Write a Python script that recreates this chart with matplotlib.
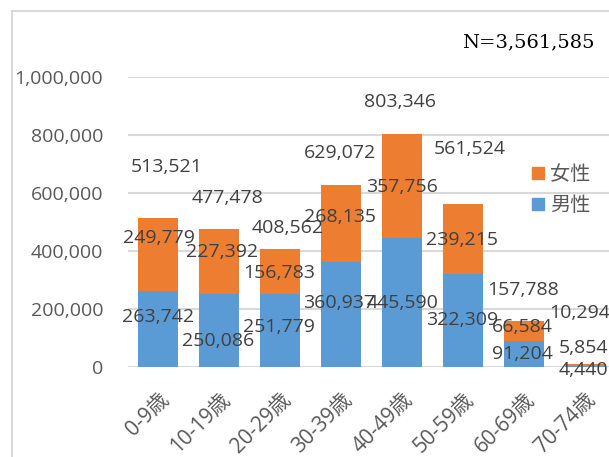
import matplotlib
matplotlib.use("Agg")
import matplotlib.pyplot as plt
from matplotlib.patches import Patch, Rectangle
from matplotlib.ticker import FuncFormatter

# ---- data ----
categories = ["0-9歳", "10-19歳", "20-29歳", "30-39歳", "40-49歳", "50-59歳", "60-69歳", "70-74歳"]
male = [263742, 250086, 251779, 360937, 445590, 322309, 91204, 4440]
female = [249779, 227392, 156783, 268135, 357756, 239215, 66584, 5854]
totals = [m + f for m, f in zip(male, female)]
n_total = sum(totals)
yticks = [0, 200000, 400000, 600000, 800000, 1000000]

# ---- label offsets (pixels) ----
tot_off = [(8, 51), (8, 31), (7, 21), (-1, 32), (-2, 32), (7, 55), (-1, 31), (-5, 51)]
fem_off = [(0, -20), (3, -23), (-1, -24), (-1, -32), (0, -53), (-1, -36), (-2, -6), (-2, 16)]
mal_off = [(0, -26), (-1, -47), (-1, -33), (-2, -41), (0, -65), (-1, -46), (-2, -13), (-2, -4)]

W, H = 609, 457
BLUE = "#5B9BD5"
ORANGE = "#ED7D31"
AXIS_C = "#595959"
LAB_C = "#404040"
GRID_C = "#D9D9D9"
NUM_FONT = ["Open Sans", "Noto Sans CJK JP", "DejaVu Sans"]
CJK_FONT = ["Noto Sans CJK JP", "DejaVu Sans"]
FS = 14

plt.rcParams["font.family"] = NUM_FONT
fig = plt.figure(figsize=(W / 100, H / 100), dpi=100)
ax = fig.add_axes([128 / W, (H - 367) / H, (615.5 - 128) / W, 290 / H])

x = list(range(len(categories)))
bw = 40 / 61
ax.bar(x, male, width=bw, color=BLUE, zorder=3)
ax.bar(x, female, width=bw, bottom=male, color=ORANGE, zorder=3)

ax.set_xlim(-0.5, len(categories) - 0.5)
ax.set_ylim(0, 1000000)
ax.set_yticks(yticks)
ax.yaxis.set_major_formatter(FuncFormatter(lambda v, p: f"{int(v):,}"))
ax.grid(axis="y", color=GRID_C, lw=1.5, zorder=0)
for s in ax.spines.values():
    s.set_visible(False)
ax.tick_params(axis="y", length=0, pad=18, labelsize=FS, labelcolor=AXIS_C)
ax.tick_params(axis="x", length=0, pad=16, labelcolor=AXIS_C)
ax.set_xticks(x)
ax.set_xticklabels(categories, rotation=45, ha="right", rotation_mode="anchor",
                   fontsize=15, family=NUM_FONT, color=AXIS_C)

fmt = lambda v: f"{v:,}"
for i in x:
    ax.annotate(fmt(totals[i]), (i, totals[i]), xytext=tot_off[i], textcoords="offset pixels",
                ha="center", va="center", fontsize=FS, color=LAB_C, zorder=5)
    ax.annotate(fmt(female[i]), (i, totals[i]), xytext=fem_off[i], textcoords="offset pixels",
                ha="center", va="center", fontsize=FS, color=LAB_C, zorder=5)
    ax.annotate(fmt(male[i]), (i, male[i]), xytext=mal_off[i], textcoords="offset pixels",
                ha="center", va="center", fontsize=FS, color=LAB_C, zorder=5)

handles = [Patch(color=ORANGE, label="女性"), Patch(color=BLUE, label="男性")]
fig.legend(handles=handles, loc="upper left", bbox_to_anchor=(532 / W, 1 - 164 / H),
           bbox_transform=fig.transFigure, frameon=False, borderpad=0, borderaxespad=0,
           handlelength=0.6, handleheight=0.6, handletextpad=0.3, labelspacing=0.5,
           prop={"family": CJK_FONT, "size": 14.5}, labelcolor=AXIS_C)

fig.text(595 / W, 1 - 42 / H, f"N={n_total:,}", ha="right", va="center",
         family=["DejaVu Serif"], fontsize=14, color="black")

fig.add_artist(Rectangle((12 / W, -0.1), 1.5, (H - 11) / H + 0.1, transform=fig.transFigure,
                         fill=False, ec=GRID_C, lw=1.5))

fig.savefig("out.png", dpi=100)
